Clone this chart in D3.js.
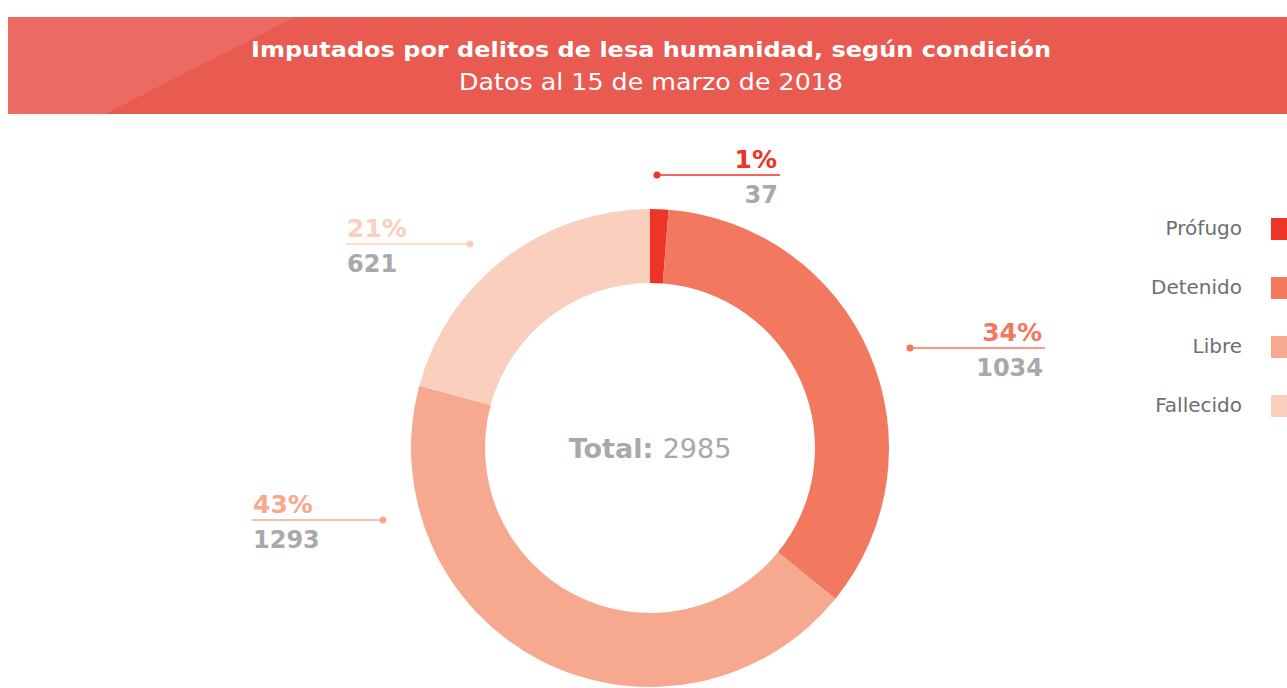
<!DOCTYPE html>
<html>
<head>
  <meta charset="utf-8">
  <title>Imputados por delitos de lesa humanidad</title>
  <style>
    body { margin: 0; background: #fff; }
    svg { display: block; font-family: "DejaVu Sans", sans-serif; }
  </style>
</head>
<body>
  <div id="chart"></div>
  <script src="https://cdn.jsdelivr.net/npm/d3@7"></script>
  <script>
    // data
    const categories = ['Prófugo', 'Detenido', 'Libre', 'Fallecido'];
    const values = [37, 1034, 1293, 621];
    const percents = ['1%', '34%', '43%', '21%'];
    const colors = ['#ee3327', '#f2785f', '#f7a98f', '#fbcfbd'];

    const title = 'Imputados por delitos de lesa humanidad, según condición';
    const subtitle = 'Datos al 15 de marzo de 2018';

    const W = 1287, H = 688;
    const cx = 650, cy = 448;
    const outerR = 239, innerR = 165;

    // label layout: dot offset from centre, line end, text side
    const labelLayout = [
      {dx: 7,    dy: -273, x2: 130,  side: 'right'},
      {dx: 260,  dy: -100, x2: 395,  side: 'right'},
      {dx: -267, dy: 72,   x2: -398, side: 'left'},
      {dx: -180, dy: -204, x2: -304, side: 'left'}
    ];

    function translate(x, y) { return 'translate(' + x + ',' + y + ')'; }

    const svg = d3.select('#chart').append('svg')
      .attr('width', W).attr('height', H);

    // header band
    const head = svg.append('g');
    head.append('rect')
      .attr('x', 8).attr('y', 17).attr('width', W - 8).attr('height', 97)
      .attr('fill', '#e95a51');
    head.append('path')
      .attr('d', 'M8,17 L295,17 L105,114 L8,114 Z')
      .attr('fill', '#ec6a62');
    head.append('text')
      .attr('x', 651).attr('y', 57)
      .attr('text-anchor', 'middle')
      .attr('fill', '#fff').attr('font-weight', 'bold').attr('font-size', 22)
      .attr('textLength', 800).attr('lengthAdjust', 'spacingAndGlyphs')
      .text(title);
    head.append('text')
      .attr('x', 651).attr('y', 90)
      .attr('text-anchor', 'middle')
      .attr('fill', '#fff').attr('font-size', 23)
      .attr('textLength', 384).attr('lengthAdjust', 'spacingAndGlyphs')
      .text(subtitle);

    // donut
    const rows = categories.map((c, i) => ({name: c, value: values[i], pct: percents[i], color: colors[i]}));
    const pie = d3.pie().value(d => d.value).sort(null);
    const arc = d3.arc().innerRadius(innerR).outerRadius(outerR);

    const g = svg.append('g').attr('transform', translate(cx, cy));
    g.selectAll('path.slice')
      .data(pie(rows))
      .enter().append('path')
        .attr('class', 'slice')
        .attr('d', arc)
        .attr('fill', d => d.data.color);

    // centre total
    const tot = g.append('text')
      .attr('y', 10).attr('text-anchor', 'middle')
      .attr('font-size', 27).attr('fill', '#a7a9ac');
    tot.append('tspan').attr('font-weight', 'bold').text('Total: ');
    tot.append('tspan').text(d3.sum(values));

    // callouts
    const lab = g.selectAll('g.lab')
      .data(rows)
      .enter().append('g').attr('class', 'lab');

    lab.append('line')
      .attr('x1', (d, i) => labelLayout[i].dx)
      .attr('y1', (d, i) => labelLayout[i].dy)
      .attr('x2', (d, i) => labelLayout[i].x2)
      .attr('y2', (d, i) => labelLayout[i].dy)
      .attr('stroke', d => d.color).attr('stroke-width', 1.5);
    lab.append('circle')
      .attr('cx', (d, i) => labelLayout[i].dx)
      .attr('cy', (d, i) => labelLayout[i].dy)
      .attr('r', 3.5)
      .attr('fill', d => d.color);
    lab.append('text')
      .attr('x', (d, i) => labelLayout[i].side === 'right' ? labelLayout[i].x2 - 3 : labelLayout[i].x2 + 1)
      .attr('y', (d, i) => labelLayout[i].dy - 7)
      .attr('text-anchor', (d, i) => labelLayout[i].side === 'right' ? 'end' : 'start')
      .attr('font-weight', 'bold').attr('font-size', 25)
      .attr('fill', d => d.color)
      .text(d => d.pct);
    lab.append('text')
      .attr('x', (d, i) => labelLayout[i].side === 'right' ? labelLayout[i].x2 - 2 : labelLayout[i].x2 + 1)
      .attr('y', (d, i) => labelLayout[i].dy + 28)
      .attr('text-anchor', (d, i) => labelLayout[i].side === 'right' ? 'end' : 'start')
      .attr('font-weight', 'bold').attr('font-size', 24)
      .attr('fill', '#a7a9ac')
      .text(d => d.value);

    // legend
    const legend = svg.selectAll('g.legend')
      .data(rows)
      .enter().append('g')
        .attr('class', 'legend')
        .attr('transform', (d, i) => translate(0, 229 + i * 59));
    legend.append('rect')
      .attr('x', 1271).attr('y', -11)
      .attr('width', 22).attr('height', 22)
      .attr('fill', d => d.color);
    legend.append('text')
      .attr('x', 1242).attr('y', 6)
      .attr('text-anchor', 'end')
      .attr('font-size', 20).attr('fill', '#6d6e71')
      .text(d => d.name);
  </script>
</body>
</html>
